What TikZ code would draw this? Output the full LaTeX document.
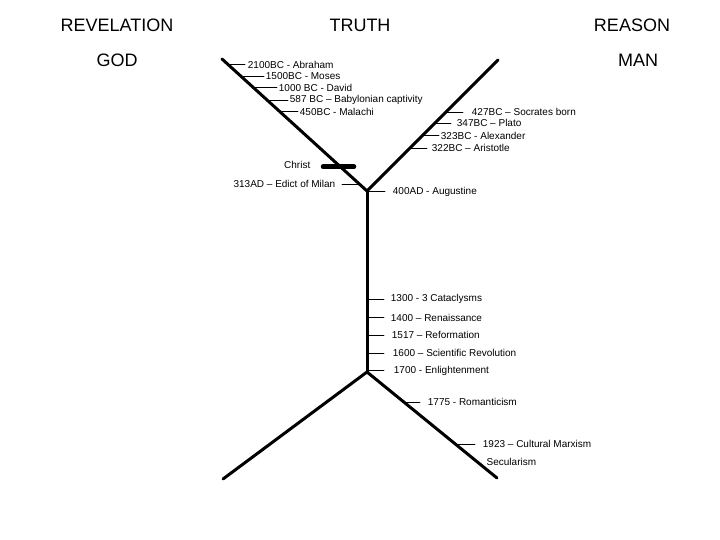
\documentclass[tikz,border=0pt]{standalone}
\usepackage{fontspec}
\setmainfont{Liberation Sans}
\begin{document}
\begin{tikzpicture}[x=1pt, y=-1pt, line join=round, line cap=round,
	branch/.style={line width=3pt},
	tick/.style={line width=0.8pt},
	era/.style={font=\fontsize{10}{12}\selectfont, inner sep=0.5pt},
	heading/.style={font=\fontsize{18}{21}\selectfont, inner sep=0pt}]
			\useasboundingbox (0,0) rectangle (720,540);
			% headings
			\node[heading] (revelation) at (117,25) {REVELATION};
			\node[heading] (truth) at (360,25) {TRUTH};
			\node[heading] (reason) at (632,25) {REASON};
			\node[heading] (god) at (117,60) {GOD};
			\node[heading] (man) at (638,60) {MAN};
			% the tree
			\coordinate (ltop) at (222,59);
			\coordinate (rtop) at (498,60);
			\coordinate (upfork) at (367,191);
			\coordinate (lowfork) at (367,372);
			\coordinate (lbot) at (223,479);
			\coordinate (rbot) at (497,478);
			\draw[branch] (ltop)--(upfork)--(rtop);
			\draw[branch] (upfork)--(lowfork);
			\draw[branch] (lbot)--(lowfork)--(rbot);
			% revelation side
			\draw[tick](228,64.5)--(245,64.5) node[era, right=2pt] (abraham) {2100BC - Abraham};
			\draw[tick](240.7,76)--(264,76) node[era, right=1pt] (moses) {1500BC - Moses};
			\draw[tick](253.5,87.7)--(277,87.7) node[era, right=1pt] (david) {1000 BC - David};
			\draw[tick](267,100)--(288,100) node[era, right=1pt] (captivity) {587 BC -- Babylonian captivity};
			\draw[tick](279.9,111.7)--(298,111.7) node[era, right=1pt] (malachi) {450BC - Malachi};
			% reason side
			\draw[tick](445.7,112.3)--(463,112.3) node[era, right=8pt] (socrates) {427BC -- Socrates born};
			\draw[tick](434.7,123.3)--(451,123.3) node[era, right=5pt] (plato) {347BC -- Plato};
			\draw[tick](422.3,135.7)--(439,135.7) node[era, right=1pt] (alexander) {323BC - Alexander};
			\draw[tick](409.7,148.3)--(427,148.3) node[era, right=4pt] (aristotle) {322BC -- Aristotle};
			% christ and after
			\draw[line width=4.5pt](323,166.7)--(354,166.7);
			\node[era, anchor=east] (christ) at (311,165) {Christ};
			\draw[tick](342,184.3)--(360,184.3);
			\node[era, anchor=east] (milan) at (336,184.3) {313AD -- Edict of Milan};
			\draw[tick](367,191.7)--(385,191.7) node[era, right=7pt] (augustine) {400AD - Augustine};
			\draw[tick](367,299)--(384,299) node[era, right=6pt] (cataclysms) {1300 - 3 Cataclysms};
			\draw[tick](367,317.7)--(384,317.7) node[era, right=6pt] (renaissance) {1400 -- Renaissance};
			\draw[tick](367,335)--(384,335) node[era, right=7pt] (reformation) {1517 -- Reformation};
			\draw[tick](367,353.3)--(384,353.3) node[era, right=8pt] (revolution) {1600 -- Scientific Revolution};
			\draw[tick](367,370.7)--(384,370.7) node[era, right=9pt] (enlightenment) {1700 - Enlightenment};
			\draw[tick](402.6,402.3)--(420,402.3) node[era, right=7pt] (romanticism) {1775 - Romanticism};
			\draw[tick](455,444.3)--(475,444.3) node[era, right=7pt] (marxism) {1923 -- Cultural Marxism};
			\node[era, anchor=west] (secularism) at (486,462.3) {Secularism};
		\end{tikzpicture}
\end{document}
